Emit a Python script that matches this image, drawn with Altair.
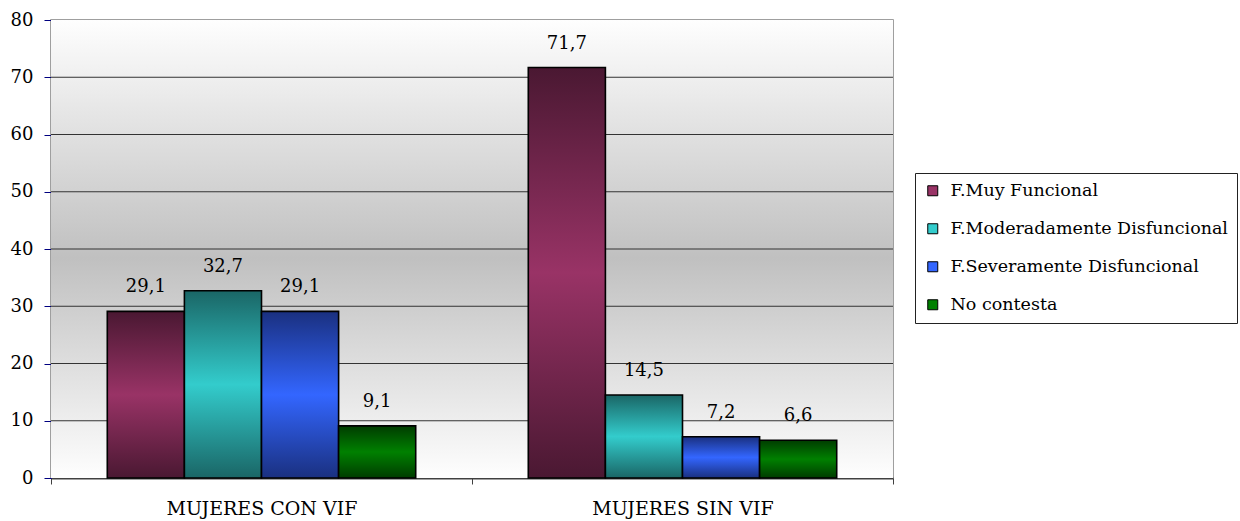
import altair as alt
import pandas as pd

groups = ["MUJERES CON VIF", "MUJERES SIN VIF"]
series = ["F.Muy Funcional", "F.Moderadamente Disfuncional",
          "F.Severamente Disfuncional", "No contesta"]
con_vif = [29.1, 32.7, 29.1, 9.1]
sin_vif = [71.7, 14.5, 7.2, 6.6]
y_ticks = [10, 20, 30, 40, 50, 60, 70]

mid_colors = ["#993366", "#33cccc", "#3366ff", "#008000"]
dark_colors = ["#4a1832", "#1a6666", "#1a3080", "#003c00"]

rows = []
for g, vals in zip(groups, [con_vif, sin_vif]):
    for s, v in zip(series, vals):
        rows.append({"grupo": g, "serie": s, "valor": v})
df = pd.DataFrame(rows)

FONT = "DejaVu Serif"
FS = 18
W, H = 842, 458

x_enc = alt.X("grupo:N", sort=groups,
              scale=alt.Scale(paddingInner=0, paddingOuter=0),
              axis=alt.Axis(title=None, labelAngle=0, labelFont=FONT, labelFontSize=19,
                            labelColor="black", domainColor="#404040", domainWidth=2,
                            tickColor="#404040", tickSize=6, tickBand="extent",
                            labelPadding=15, labelLimit=400, grid=False))
xo_enc = alt.XOffset("serie:N", sort=series,
                     scale=alt.Scale(domain=series, paddingInner=0, paddingOuter=0.73))
y_scale = alt.Scale(domain=[0, 80])
y_enc = alt.Y("valor:Q", scale=y_scale,
              axis=alt.Axis(title=None, values=list(range(0, 81, 10)), labelFont=FONT,
                            labelFontSize=FS, labelColor="black", domainColor="#000080",
                            tickColor="#000080", tickSize=7, labelPadding=11,
                            grid=False))

bg_grad = alt.Gradient(gradient="linear", x1=0, x2=0, y1=0, y2=1,
                       stops=[alt.GradientStop(color="#fefefe", offset=0),
                              alt.GradientStop(color="#c0c0c0", offset=0.52),
                              alt.GradientStop(color="#fefefe", offset=1)])
background = alt.Chart(pd.DataFrame({"k": [0]})).mark_rect(fill=bg_grad).encode(
    x=alt.value(0), x2=alt.value(W), y=alt.value(0), y2=alt.value(H)
)

grid = alt.Chart(pd.DataFrame({"t": y_ticks})).mark_rule(color="#333333", strokeWidth=1).encode(
    y=alt.Y("t:Q", scale=y_scale)
)

base = alt.Chart(df)

solid = base.mark_bar().encode(
    x=x_enc, xOffset=xo_enc, y=y_enc,
    color=alt.Color("serie:N", sort=series,
                    scale=alt.Scale(domain=series, range=mid_colors),
                    legend=alt.Legend(title=None, orient="none", legendX=864, legendY=153,
                                      labelFont=FONT, labelFontSize=17.5, labelColor="black",
                                      symbolType="square", symbolSize=100,
                                      symbolStrokeColor="black", symbolStrokeWidth=1,
                                      symbolOpacity=1,
                                      fillColor="white", strokeColor="#222222",
                                      padding=9, rowPadding=19, labelOffset=9,
                                      labelLimit=400)),
)

layers = [background, grid, solid]
for s, mc, dc in zip(series, mid_colors, dark_colors):
    grad = alt.Gradient(gradient="linear", x1=0, x2=0, y1=0, y2=1,
                        stops=[alt.GradientStop(color=dc, offset=0),
                               alt.GradientStop(color=mc, offset=0.5),
                               alt.GradientStop(color=dc, offset=1)])
    layers.append(
        base.transform_filter(alt.datum.serie == s)
        .mark_bar(fill=grad, stroke="black", strokeWidth=1.6)
        .encode(x=x_enc, xOffset=xo_enc, y=y_enc)
    )

text = base.transform_calculate(
    etiqueta="replace(format(datum.valor, '.1f'), '.', ',')"
).mark_text(font=FONT, fontSize=FS, color="black", baseline="alphabetic", dy=-19).encode(
    x=x_enc, xOffset=xo_enc, y=y_enc, text="etiqueta:N"
)
layers.append(text)

chart = alt.layer(*layers).properties(
    width=W, height=H,
    padding={"left": 51, "top": 20, "right": 347, "bottom": 43},
    autosize=alt.AutoSizeParams(type="none"),
    background="white",
).configure_view(stroke="#808080", strokeWidth=1.5)

chart.save("out.html", embed_options={"renderer": "svg", "actions": False})
